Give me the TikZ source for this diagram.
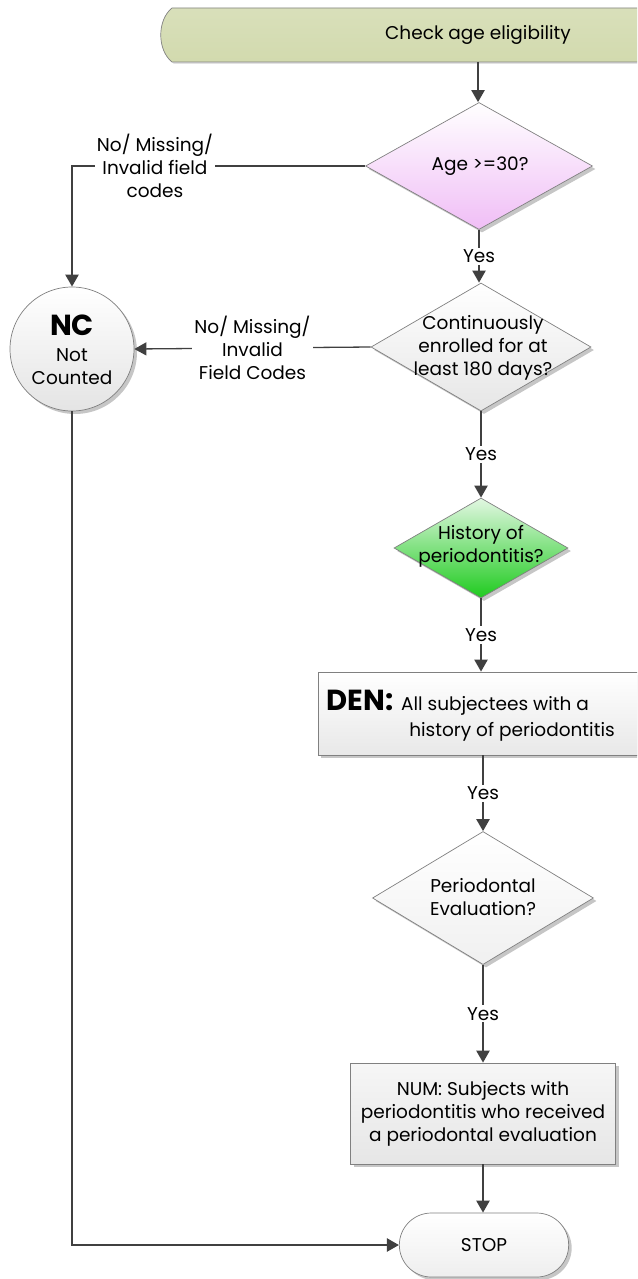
\documentclass[tikz,border=0pt]{standalone}
\usepackage{fontspec}
\setmainfont{Poppins}
\usetikzlibrary{shapes.geometric,shapes.misc,arrows.meta,shadows}
\definecolor{ln}{HTML}{404040}
\definecolor{edge}{HTML}{808080}
\definecolor{olivefill}{HTML}{D2DAAE}
\definecolor{pinkb}{HTML}{F0BEF6}
\definecolor{grayb}{HTML}{E6E6E6}
\definecolor{greent}{HTML}{E2F7E2}
\definecolor{greenb}{HTML}{1FCB1F}
\definecolor{grayc}{HTML}{E8E8E8}
\definecolor{grayd}{HTML}{F0F0F0}
\definecolor{graye}{HTML}{F6F6F6}
\definecolor{grayf}{HTML}{EEEEEE}
\definecolor{grayg}{HTML}{E4E4E4}
\tikzset{
  conn/.style={draw=ln, line width=2.2pt},
  arr/.style={conn, -{Triangle[length=12pt,width=13pt]}},
  shp/.style={draw=edge, line width=0.7pt, drop shadow={shadow xshift=3pt, shadow yshift=-3pt, fill=gray!45, opacity=1}},
  dia/.style={shp, diamond, inner sep=0pt},
  lbl/.style={fill=white, inner sep=2pt, align=center},
  txt/.style={inner sep=0pt, align=center},
  big/.style={font=\bfseries\fontsize{29}{30}\selectfont},
}
\begin{document}
\begin{tikzpicture}[x=1pt,y=-1pt,font=\fontsize{18.5}{23}\selectfont]
\useasboundingbox (0,0) rectangle (637,1279);
\clip (0,0) rectangle (637,1279);
% start terminator
\path[draw=edge, line width=0.7pt, top color=olivefill!85, bottom color=olivefill, drop shadow={shadow xshift=2pt, shadow yshift=-2pt, fill=gray!45}]
  (172,8) -- (660,8) -- (660,62) -- (172,62) .. controls (157,50) and (157,20) .. (172,8) -- cycle;
\node[txt, minimum height=54pt] (start) at (478,35) {Check age eligibility};
% shapes
\node[dia, minimum width=227pt, minimum height=127pt, top color=white, bottom color=pinkb] (d1) at (479,166) {};
\node[txt] (d1t) at (480,166) {Age >=30?};
\node[dia, minimum width=220pt, minimum height=128pt, top color=white, bottom color=grayb] (d2) at (481,347) {};
\node[txt] (d2t) at (483,348) {Continuously\\enrolled for at\\least 180 days?};
\node[dia, minimum width=174pt, minimum height=100pt, top color=greent, bottom color=greenb] (d3) at (481,548) {};
\node[txt] (d3t) at (481,546) {History of\\periodontitis?};
\node[shp, rectangle, minimum width=330pt, minimum height=83pt, top color=white, bottom color=grayc] (den) at (483,713.5) {};
\node[txt, big] (denhead) at (360,700) {DEN:};
\node[txt] (den1) at (495,706) {All subjectees with a};
\node[txt] (den2) at (512,732) {history of periodontitis};
\node[dia, minimum width=221pt, minimum height=133pt, top color=white, bottom color=grayd] (d4) at (483,898) {};
\node[txt] (d4t) at (483,897) {Periodontal\\Evaluation?};
\node[shp, rectangle, minimum width=265pt, minimum height=101pt, top color=graye, bottom color=grayb] (num) at (483,1113.5) {};
\node[txt] (numt) at (483,1113.5) {NUM: Subjects with\\periodontitis who received\\a periodontal evaluation};
\node[shp, rounded rectangle, minimum width=176pt, minimum height=64pt, top color=white, bottom color=grayf] (stop) at (484,1245) {STOP};
\node[shp, circle, minimum size=124pt, inner sep=0pt, top color=white, bottom color=grayg] (nc) at (72,349) {};
\node[txt, big] (nc1) at (72,325) {NC};
\node[txt] (nc2) at (72,355) {Not};
\node[txt] (nc3) at (72,378) {Counted};
% connectors
\draw[arr] (start.south) -- (start.south |- d1.north);
\draw[arr] (d1.south) -- node[lbl] (y1) {Yes} (d1.south |- d2.north);
\draw[arr] (d2.south) -- node[lbl] (y2) {Yes} (d2.south |- d3.north);
\draw[arr] (d3.south) -- node[lbl] (y3) {Yes} (d3.south |- den.north);
\draw[arr] (den.south) -- node[lbl] (y4) {Yes} (den.south |- d4.north);
\draw[arr] (d4.south) -- node[lbl] (y5) {Yes} (d4.south |- num.north);
\draw[arr] (num.south) -- (num.south |- stop.north);
\coordinate (c1) at (72,166);
\draw[arr] (d1.west) -- node[lbl, pos=0.717] (no1) {No/ Missing/\\Invalid field\\codes} (c1) -- (nc.north);
\draw[arr, line width=1.3pt] (d2.west) -- node[lbl, pos=0.5] (no2) {No/ Missing/\\Invalid\\Field Codes} (nc.east);
\coordinate (c2) at (72,1245);
\draw[arr] (nc.south) -- (c2) -- (stop.west);
\end{tikzpicture}
\end{document}
